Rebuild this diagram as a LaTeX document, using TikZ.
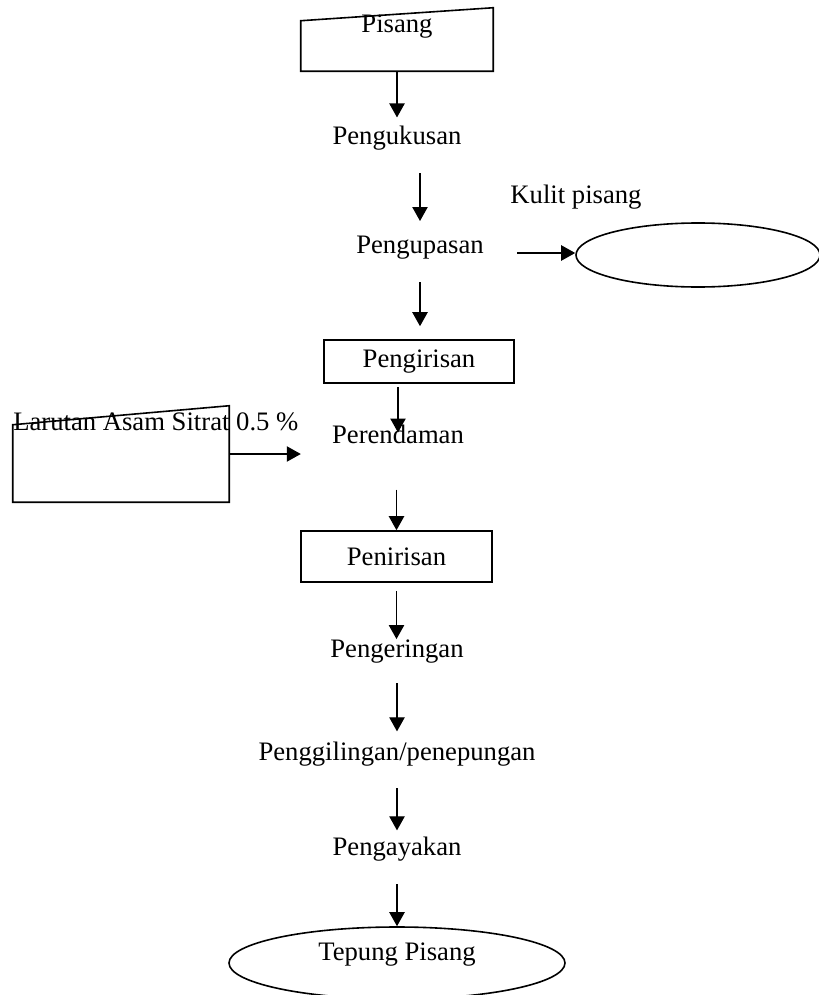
\documentclass[tikz,border=0pt]{standalone}
\usepackage{fontspec}
\setmainfont{Liberation Serif}
\usetikzlibrary{shapes.geometric, arrows.meta, calc}

\begin{document}
\begin{tikzpicture}[x=0.75pt, y=-0.75pt,
    every node/.style={font=\fontsize{20}{24}\selectfont},
    teks/.style={inner sep=0pt, anchor=base},
    garis/.style={line width=1.2pt},
    kotak/.style={draw, garis, inner sep=0pt},
    elips/.style={draw, garis, ellipse, inner sep=0pt},
    panah/.style={line width=0.9pt, -{Triangle[width=11.5pt, length=10.5pt]}}]
    \useasboundingbox (0,0) rectangle (818,995);

    % Pisang
    \node[inner sep=0pt, minimum width=144pt, minimum height=47.25pt] (pisang) at (397,39.5) {};
    \draw[garis] ($(pisang.north west)+(0,13)$) -- (pisang.north east) -- (pisang.south east) -- (pisang.south west) -- cycle;
    \node[teks] (pisangtxt) at (397,33) {Pisang};

    % Proses
    \node[teks] (kukus) at (397,145) {Pengukusan};
    \node[teks] (kupas) at (420,253) {Pengupasan};
    \node[kotak, minimum width=142.5pt, minimum height=32.25pt] (iris) at (419,361.5) {Pengirisan};
    \node[teks] (rendam) at (398,443) {Perendaman};
    \node[kotak, minimum width=143.25pt, minimum height=38.25pt] (tiris) at (396.5,556.5) {Penirisan};
    \node[teks] (kering) at (397,657) {Pengeringan};
    \node[teks] (giling) at (397,760) {Penggilingan/penepungan};
    \node[teks] (ayak) at (397,855) {Pengayakan};

    % Kulit pisang
    \node[teks] (kulittxt) at (576,203) {Kulit pisang};
    \node[elips, minimum width=183pt, minimum height=48pt] (kulit) at (698,255) {};

    % Larutan asam sitrat
    \node[inner sep=0pt, minimum width=162pt, minimum height=72pt] (larutan) at (121,454) {};
    \draw[garis] (larutan.south west) -- (larutan.south east) -- (larutan.north east) -- ($(larutan.north west)+(0,19)$) -- cycle;
    \node[teks, anchor=base west] (larutantxt) at (13,430) {Larutan Asam Sitrat 0.5 \%};

    % Tepung pisang
    \node[elips, minimum width=252pt, minimum height=54pt] (tepung) at (397,963) {};
    \node[teks] (tepungtxt) at (397,960) {Tepung Pisang};

    % Panah
    \draw[panah, shorten >=6.6pt] (pisang.south) -- (kukus.north);
    \draw[panah, shorten <=16.6pt, shorten >=10.7pt] (kupas.north |- kukus.south) -- (kupas.north);
    \draw[panah, shorten <=17.4pt, shorten >=9.75pt] (kupas.south) -- (kupas.south |- iris.north);
    \draw[panah, shorten <=2.25pt, shorten >=-6.2pt] (rendam.north |- iris.south) -- (rendam.north);
    \draw[panah, shorten <=34.5pt] (tiris.north |- rendam.south) -- (tiris.north);
    \draw[panah, shorten <=6pt] (tiris.south) -- (tiris.south |- kering.north);
    \draw[panah, shorten <=15.2pt, shorten >=7.4pt] (kering.south) -- (giling.north);
    \draw[panah, shorten <=16.7pt, shorten >=4.4pt] (giling.south) -- (ayak.north);
    \draw[panah, shorten <=17.4pt] (ayak.south) -- (tepung.north);
    \draw[panah, shorten <=25pt] (kupas.base east) -- (kupas.base east -| kulit.west);
    \draw[panah, shorten >=23.3pt] (larutan.east) -- (larutan.east -| rendam.west);
\end{tikzpicture}
\end{document}
